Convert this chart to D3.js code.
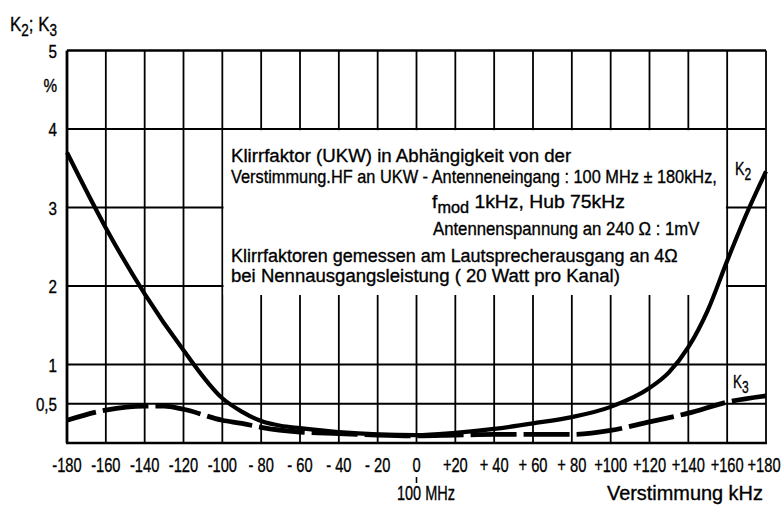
<!DOCTYPE html>
<html><head><meta charset="utf-8">
<script src="https://cdn.jsdelivr.net/npm/d3@7"></script>
<style>
html,body{margin:0;padding:0;background:#fff;}
svg text{font-family:"Liberation Sans",Arial,sans-serif;fill:#000;stroke:#000;stroke-width:0.35px;}
</style></head>
<body>
<svg id="c" width="781" height="506"></svg>
<script>
// ---- data ----
const xTicks = [-180,-160,-140,-120,-100,-80,-60,-40,-20,0,20,40,60,80,100,120,140,160,180];
const xTickLabels = ["-180","-160","-140","-120","-100","- 80","- 60","- 40","- 20","0","+20","+ 40","+ 60","+ 80","+100","+120","+140","+160","+180"];
const yGrid = [0.5,1,2,3,4,5];
const yTickLabels = ["0,5","1","2","3","4","5"];
const k2X = [-180,-160,-140,-120,-100,-90,-80,-70,-60,-40,-20,0,20,40,60,80,100,120,130,140,150,160,170,180];
const k2Y = [3.70,2.74,1.90,1.18,0.57,0.40,0.28,0.22,0.19,0.14,0.11,0.10,0.13,0.18,0.25,0.33,0.46,0.70,0.90,1.22,1.69,2.32,2.92,3.46];
const k3X = [-180,-160,-140,-130,-120,-100,-90,-80,-60,-40,-20,0,20,40,60,80,100,120,140,160,180];
const k3Y = [0.29,0.42,0.47,0.47,0.43,0.29,0.25,0.20,0.14,0.12,0.10,0.09,0.10,0.11,0.11,0.11,0.16,0.27,0.38,0.52,0.60];
const boxText = [
  "Klirrfaktor (UKW) in Abhängigkeit von der",
  "Verstimmung.HF an UKW - Antenneneingang : 100 MHz ± 180kHz,",
  "Antennenspannung  an 240 Ω : 1mV",
  "Klirrfaktoren gemessen am Lautsprecherausgang an 4Ω",
  "bei  Nennausgangsleistung ( 20 Watt pro Kanal)"
];

// ---- layout ----
const svg = d3.select("#c");
const x = d3.scaleLinear().domain([-180,180]).range([67,766]);
const y = d3.scaleLinear().domain([0,5]).range([443,50.5]);

// text helper: place text and squeeze horizontally (to imitate narrow DIN lettering)
function addText(px, py, size, anchor, build, opt) {
  const gg = svg.append("g").attr("transform",`translate(${px},${py})`);
  const t = gg.append("text").attr("font-size",size).attr("text-anchor",anchor);
  if (typeof build === "string") t.text(build); else build(t);
  let s = opt.scale;
  if (opt.width) { const w = t.node().getBBox().width; s = opt.width / w; }
  t.attr("transform",`scale(${s},1)`);
  return t;
}
function sub(t, main, subTxt, subSize, after) {
  t.append("tspan").text(main);
  t.append("tspan").attr("font-size",subSize).attr("dy",5).text(subTxt);
  if (after !== undefined) t.append("tspan").attr("dy",-5).text(after);
}

const g = svg.append("g");
// vertical grid
g.selectAll("line.v").data(xTicks).join("line")
  .attr("x1",d=>x(d)).attr("x2",d=>x(d)).attr("y1",y(5)).attr("y2",y(0))
  .attr("stroke","#000").attr("stroke-width",d=>d===-180?2.8:1.8);
// horizontal grid
g.selectAll("line.h").data(yGrid).join("line")
  .attr("x1",x(-180)).attr("x2",x(180)).attr("y1",d=>y(d)).attr("y2",d=>y(d))
  .attr("stroke","#000").attr("stroke-width",d=>d===5?2.3:1.8);
g.append("line").attr("x1",x(-180)-1).attr("x2",x(180)+1).attr("y1",y(0)).attr("y2",y(0))
  .attr("stroke","#000").attr("stroke-width",2.5);

// white text box (gridlines hidden behind the annotation)
const boxTop = y(4)+1.2, boxBottom = 295;
g.append("rect").attr("x",x(-100)+1.2).attr("y",boxTop)
  .attr("width",x(160)-x(-100)-2.4).attr("height",boxBottom-boxTop).attr("fill","#fff");

// curves
const line = d3.line().x(d=>x(d[0])).y(d=>y(d[1])).curve(d3.curveMonotoneX);
const k2 = k2X.map((v,i)=>[v,k2Y[i]]);
const k3 = k3X.map((v,i)=>[v,k3Y[i]]);
g.append("path").attr("d",line(k3)).attr("fill","none").attr("stroke","#000")
  .attr("stroke-width",4.8).attr("stroke-dasharray","46,7").attr("stroke-dashoffset",16);
g.append("path").attr("d",line(k2)).attr("fill","none").attr("stroke","#000")
  .attr("stroke-width",4.2);

// x tick labels
xTicks.forEach((d,i)=>addText(d===180?x(d)-2:x(d), 472, 21, "middle", xTickLabels[i], {scale:0.7}));
// y tick labels
yGrid.forEach((d,i)=>addText(57, y(d)+7, 19, "end", yTickLabels[i], {scale:0.8}));
addText(57, 92, 18, "end", "%", {scale:0.85});
// axis title
addText(10, 31, 20, "start", t=>{ sub(t,"K","2",16,"; K"); t.append("tspan").attr("font-size",16).attr("dy",5).text("3"); }, {width:47});

// under x axis
svg.append("line").attr("x1",x(0)).attr("x2",x(0)).attr("y1",477).attr("y2",483)
  .attr("stroke","#000").attr("stroke-width",1.6);
addText(397, 500, 20, "start", "100 MHz", {width:58});
addText(607, 500, 20, "start", "Verstimmung  kHz", {width:156});

// annotation text
addText(231, 162, 19, "start", boxText[0], {width:341});
addText(231, 183, 19, "start", boxText[1], {width:486});
addText(432, 208, 19, "start", t=>sub(t,"f","mod",16,"  1kHz, Hub 75kHz"), {width:193});
addText(433, 235, 19, "start", boxText[2], {width:267});
addText(231, 262, 19, "start", boxText[3], {width:447});
addText(231, 282, 19, "start", boxText[4], {width:389});

// series labels
addText(735, 175, 19, "start", t=>sub(t,"K","2",16), {scale:0.75});
addText(733, 388, 18, "start", t=>sub(t,"K","3",16), {scale:0.75});
</script>
</body></html>
